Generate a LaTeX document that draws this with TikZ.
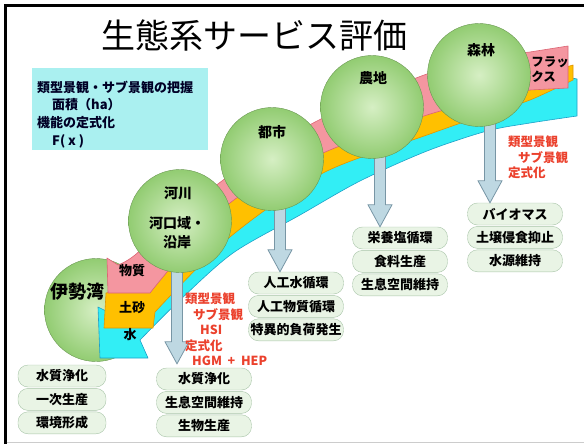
\documentclass[tikz,border=0pt]{standalone}
\usepackage{fontspec}
\newfontfamily\jp{Noto Sans CJK JP}
\usetikzlibrary{positioning,calc}

\definecolor{ballin}{RGB}{214,239,196}
\definecolor{ballout}{RGB}{146,204,114}
\definecolor{ballline}{RGB}{104,150,80}
\definecolor{boxfill}{RGB}{233,244,229}
\definecolor{boxline}{RGB}{168,196,168}
\definecolor{flowfill}{RGB}{190,216,226}
\definecolor{flowline}{RGB}{120,150,165}
\definecolor{infofill}{RGB}{170,240,240}
\definecolor{pinkfill}{RGB}{244,150,160}
\definecolor{pinkline}{RGB}{220,100,115}
\definecolor{sandfill}{RGB}{255,192,0}
\definecolor{sandline}{RGB}{225,150,0}
\definecolor{waterfill}{RGB}{50,238,245}
\definecolor{waterline}{RGB}{30,160,200}
\definecolor{redtxt}{RGB}{235,65,45}

% block arrow from a landscape circle down to the first box of its column
\newcommand{\flowarrow}[3][0pt]{%
  \draw[flow] let \p1=(#2), \p2=(#3.north) in
    (\x1-5.5pt,\y1) -- (\x1-5.5pt,\y2+#1+22pt) -- (\x1-12pt,\y2+#1+22pt) -- (\x1,\y2+#1)
    -- (\x1+12pt,\y2+#1+22pt) -- (\x1+5.5pt,\y2+#1+22pt) -- (\x1+5.5pt,\y1) -- cycle;}

\begin{document}
\begin{tikzpicture}[x=1pt, y=-1pt,
  every node/.style={font=\jp\bfseries\fontsize{13}{15}\selectfont},
  ball/.style={circle, draw=ballline, inner color=ballin, outer color=ballout, minimum size=103pt, inner sep=0pt},
  svbox/.style={rectangle, rounded corners=10pt, draw=boxline, fill=boxfill, minimum width=95pt, minimum height=22pt, inner sep=0pt},
  flow/.style={draw=flowline, fill=flowfill, line width=0.8pt},
  redlbl/.style={text=redtxt, align=left, anchor=north west, inner sep=0pt, font=\jp\bfseries\fontsize{12.5}{15.5}\selectfont},
  bigl/.style={font=\jp\bfseries\fontsize{14}{19}\selectfont},
  band/.style={line width=0.6pt, line join=round}]
  \useasboundingbox (0,0) rectangle (584,444);
  % frame
  \draw[line width=3pt] (5,444) -- (5,5.5) -- (584,5.5);
  \draw[black!20, line width=1.5pt] (6.5,442.5) -- (584,442.5);

  % title and info box
  \node[font=\jp\fontsize{34}{34}\selectfont] (title) at (254,35) {生態系サービス評価};
  \node[fill=infofill, minimum width=176pt, minimum height=82pt] (info) at (120,109) {};
  \node[align=left, anchor=north west, inner sep=0pt, text=black!85!blue, font=\jp\bfseries\fontsize{13}{17.7}\selectfont] (infotxt) at (37,80.5)
    {類型景観・サブ景観の把握\\\hspace*{15pt}面積（ha）\\機能の定式化\\\hspace*{15pt}F( x )};

  % bay
  \node[ball] (ise) at (96,310) {};

  % flows: water (back), sand, matter (front)
  \filldraw[band, fill=waterfill, draw=waterline] (577,79) -- (577,116)
    -- plot[smooth, tension=0.5] coordinates {(577,116) (530,123) (487,131) (427,151) (360,181) (300,215) (233,253) (180,300) (140,340)}
    -- (148,358) -- (100,358) -- (98,307) -- (108,312)
    -- plot[smooth, tension=0.5] coordinates {(125,305) (160,296) (230,229) (323,165) (427,127) (487,106) (530,92) (572,78)} -- cycle;
  \filldraw[band, fill=sandfill, draw=sandline] (573,65) -- (573,80)
    -- plot[smooth, tension=0.5] coordinates {(573,80) (530,100) (487,114) (427,135) (323,173) (230,237) (155,312)}
    -- (153,328) -- (104,328) -- (106,293)
    -- plot[smooth, tension=0.5] coordinates {(140,286) (190,240) (230,195) (323,143) (427,105) (487,90) (535,76)} -- cycle;
  \filldraw[band, fill=pinkfill, draw=pinkline] (107,258) -- (118,265)
    -- plot[smooth, tension=0.5] coordinates {(118,265) (135,255) (180,214) (230,175) (280,142) (323,118) (380,93) (427,74) (480,59) (530,52)}
    -- (568,46) -- (568,88) -- (530,90)
    -- plot[smooth, tension=0.5] coordinates {(530,90) (487,100) (427,115) (323,153) (230,203) (150,293)}
    -- (108,293) -- cycle;

  % ecosystem services
  \node[svbox, minimum width=88pt] (ise1) at (62,376) {水質浄化};
  \node[svbox, minimum width=88pt, below=1pt of ise1] (ise2) {一次生産};
  \node[svbox, minimum width=88pt, below=1pt of ise2] (ise3) {環境形成};
  \node[svbox] (riv1) at (204,379) {水質浄化};
  \node[svbox, below=1pt of riv1] (riv2) {生息空間維持};
  \node[svbox, below=1pt of riv2] (riv3) {生物生産};
  \node[svbox] (urb1) at (296,283) {人工水循環};
  \node[svbox, below=1pt of urb1] (urb2) {人工物質循環};
  \node[svbox, below=1pt of urb2] (urb3) {特異的負荷発生};
  \node[svbox] (agr1) at (400,238) {栄養塩循環};
  \node[svbox, below=1pt of agr1] (agr2) {食料生産};
  \node[svbox, below=1pt of agr2] (agr3) {生息空間維持};
  \node[svbox] (frs1) at (515,214) {バイオマス};
  \node[svbox, below=1pt of frs1] (frs2) {土壌侵食抑止};
  \node[svbox, below=1pt of frs2] (frs3) {水源維持};

  \coordinate (rivA) at (177,221);
  \coordinate (urbA) at (280,159);
  \coordinate (agrA) at (380,107);
  \coordinate (frsA) at (490,75);
  \flowarrow[4pt]{rivA}{riv1}
  \flowarrow{urbA}{urb1}
  \flowarrow{agrA}{agr1}
  \flowarrow{frsA}{frs1}

  % landscape units
  \node[ball] (riv) at (180,221) {};
  \node[ball] (urb) at (272,159) {};
  \node[ball] (agr) at (372,107) {};
  \node[ball] (frs) at (479,75) {};

  \node[font=\jp\bfseries\fontsize{18}{18}\selectfont] (iseT) at (77,292) {伊勢湾};
  \node[bigl] (rivT) at (178,193) {河川};
  \node[bigl, align=center] (rivT2) at (177,232.5) {河口域・\\沿岸};
  \node[bigl] (urbT) at (272,132) {都市};
  \node[bigl] (agrT) at (373,78) {農地};
  \node[bigl] (frsT) at (481,50) {森林};
  \node (matT) at (132,271) {物質};
  \node (sandT) at (132,308) {土砂};
  \node (watT) at (130,335) {水};
  \node[align=left, font=\jp\bfseries\fontsize{12.5}{15}\selectfont] (fluxT) at (550,69.5) {フラッ\\クス};

  % evaluation methods
  \node[redlbl] (rivM) at (185,293) {類型景観\\\hspace*{8pt}サブ景観\\\hspace*{15pt}HSI\\定式化\\\hspace*{7pt}HGM\ \ +\ \ HEP};
  \node[redlbl] (frsM) at (508,136) {類型景観\\\hspace*{10pt}サブ景観\\定式化};
\end{tikzpicture}
\end{document}
